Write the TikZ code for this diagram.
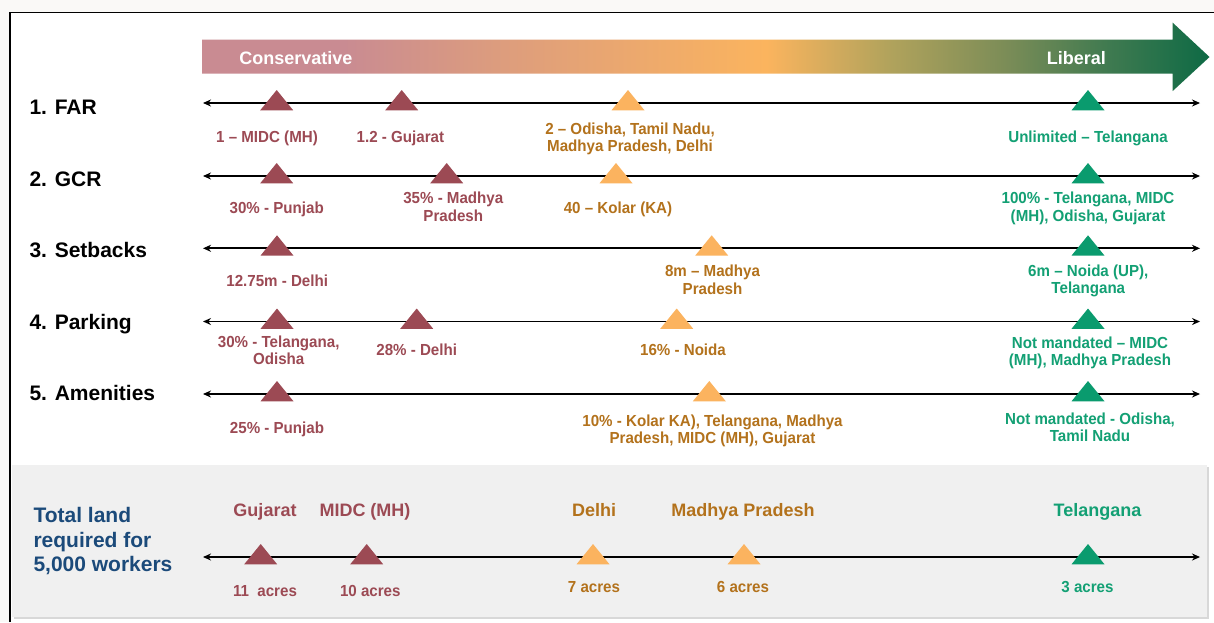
\documentclass[tikz,border=0pt]{standalone}
\usepackage{fontspec}
\setmainfont{Liberation Sans}
\newfontfamily\narrowfont[FakeStretch=0.945]{Liberation Sans}
\usetikzlibrary{arrows.meta,shadows}
\definecolor{pagebg}{HTML}{FAF9F7}
\definecolor{cRose}{HTML}{C98B92}
\definecolor{cPeach}{HTML}{DD9D7D}
\definecolor{cOrange}{HTML}{FBB45E}
\definecolor{cOlive}{HTML}{B2A35C}
\definecolor{cMoss}{HTML}{7A8C57}
\definecolor{cGreenM}{HTML}{3F7A50}
\definecolor{cDkGreen}{HTML}{0E6A45}
\definecolor{triRed}{HTML}{9C4A54}
\definecolor{triOrange}{HTML}{FBB35F}
\definecolor{triGreen}{HTML}{0A9B6E}
\definecolor{txtRed}{HTML}{9C4A54}
\definecolor{txtOrange}{HTML}{B3721C}
\definecolor{txtGreen}{HTML}{13A074}
\definecolor{txtBlue}{HTML}{1B4A7A}
\definecolor{boxGray}{HTML}{F0F0F0}
\pgfdeclarehorizontalshading{consliberal}{100bp}{color(0bp)=(cRose); color(25bp)=(cRose); color(32bp)=(cRose); color(40bp)=(cPeach); color(53bp)=(cOrange); color(59bp)=(cOlive); color(65bp)=(cMoss); color(70bp)=(cGreenM); color(75bp)=(cDkGreen); color(100bp)=(cDkGreen)}
\begin{document}
\begin{tikzpicture}[x=1pt,y=-1pt,
  axisline/.style={line width=1.7pt, {Stealth[length=8pt,width=7pt]}-{Stealth[length=8pt,width=7pt]}},
  tri/.pic={\fill (-16.5,7.3) -- (16.5,7.3) -- (0,-13) -- cycle;},
  lbl/.style={inner sep=0pt, anchor=north, align=center, yshift=12.11pt,
    font=\narrowfont\bfseries\fontsize{16}{17.3}\selectfont, execute at begin node=\strut},
  rowtitle/.style={anchor=base west, inner sep=0pt, font=\bfseries\fontsize{21}{25}\selectfont},
  toplbl/.style={anchor=base, inner sep=0pt, font=\bfseries\fontsize{18}{21}\selectfont},
  acre/.style={anchor=base, inner sep=0pt, font=\narrowfont\bfseries\fontsize{16}{18}\selectfont},
  barlbl/.style={anchor=base, inner sep=0pt, text=white, font=\bfseries\fontsize{18}{21}\selectfont}
]
\useasboundingbox (0,0) rectangle (1214,622);
\fill[pagebg] (0,0) rectangle (1214,622);
\fill[white] (10,12.5) rectangle (1214,622);
\draw[line width=1.2pt] (10,622) -- (10,12.5) -- (1214,12.5);

% gradient arrow
\shade[shading=consliberal] (202,39.5) -- (1172.7,39.5) -- (1172.7,22.7) -- (1209.5,57)
  -- (1172.7,91) -- (1172.7,73.5) -- (202,73.5) -- cycle;
\node[barlbl] (cons) at (295.8,64.3) {Conservative};
\node[barlbl] (lib) at (1076.3,64.3) {Liberal};

% bottom box
\fill[boxGray, drop shadow={shadow xshift=1.5pt, shadow yshift=-2pt, opacity=0.3}] (12,465) rectangle (1207,617);

% row titles
\node[rowtitle] (t1) at (29.3,114.3) {1. FAR};
\node[rowtitle] (t2) at (29.3,186) {2. GCR};
\node[rowtitle] (t3) at (29.3,257.5) {3. Setbacks};
\node[rowtitle] (t4) at (29.3,329.5) {4. Parking};
\node[rowtitle] (t5) at (29.3,400.5) {5. Amenities};
\node[anchor=north west, inner sep=0pt, align=left, text=txtBlue,
  font=\bfseries\fontsize{21}{24.5}\selectfont, execute at begin node=\strut, yshift=17.15pt]
  (tot) at (33.3,524.3) {Total land\\required for\\5,000 workers};

% axis lines
\foreach \n/\y in {1/103,2/176,3/248.3,4/321.5,5/394,6/557}{
  \coordinate (l\n) at (203,\y);
  \coordinate (r\n) at (1200,\y);
  \draw[axisline] (l\n) -- (r\n);
}

% 1. FAR
\pic[triRed] at (276.7,103) {tri};
\pic[triRed] at (401.7,103) {tri};
\pic[triOrange] at (628,103) {tri};
\pic[triGreen] at (1088,103) {tri};
\node[lbl, text=txtRed] (f1) at (267,142.3) {1 – MIDC (MH)};
\node[lbl, text=txtRed] (f2) at (400.4,142.3) {1.2 - Gujarat};
\node[lbl, text=txtOrange] (f3) at (630,135) {2 – Odisha, Tamil Nadu,\\Madhya Pradesh, Delhi};
\node[lbl, text=txtGreen] (f4) at (1088,142) {Unlimited – Telangana};

% 2. GCR
\pic[triRed] at (276.7,176) {tri};
\pic[triRed] at (446.7,176) {tri};
\pic[triOrange] at (616,176) {tri};
\pic[triGreen] at (1088,176) {tri};
\node[lbl, text=txtRed] (g1) at (276.7,213.3) {30\% - Punjab};
\node[lbl, text=txtRed] (g2) at (453.3,204.3) {35\% - Madhya\\Pradesh};
\node[lbl, text=txtOrange] (g3) at (618,213.3) {40 – Kolar (KA)};
\node[lbl, text=txtGreen] (g4) at (1088,204.3) {100\% - Telangana, MIDC\\(MH), Odisha, Gujarat};

% 3. Setbacks
\pic[triRed] at (277,248.3) {tri};
\pic[triOrange] at (711.7,248.3) {tri};
\pic[triGreen] at (1088,248.3) {tri};
\node[lbl, text=txtRed] (s1) at (277.2,286) {12.75m - Delhi};
\node[lbl, text=txtOrange] (s2) at (712.5,277.3) {8m – Madhya\\Pradesh};
\node[lbl, text=txtGreen] (s3) at (1088.3,276.7) {6m – Noida (UP),\\Telangana};

% 4. Parking
\pic[triRed] at (277,321.5) {tri};
\pic[triRed] at (416.7,321.5) {tri};
\pic[triOrange] at (676.7,321.5) {tri};
\pic[triGreen] at (1088,321.5) {tri};
\node[lbl, text=txtRed] (p1) at (278.7,347.7) {30\% - Telangana,\\Odisha};
\node[lbl, text=txtRed] (p2) at (416.7,355.7) {28\% - Delhi};
\node[lbl, text=txtOrange] (p3) at (683,355) {16\% - Noida};
\node[lbl, text=txtGreen] (p4) at (1090,349) {Not mandated – MIDC\\(MH), Madhya Pradesh};

% 5. Amenities
\pic[triRed] at (277,394) {tri};
\pic[triOrange] at (709.3,394) {tri};
\pic[triGreen] at (1088,394) {tri};
\node[lbl, text=txtRed] (a1) at (277,433) {25\% - Punjab};
\node[lbl, text=txtOrange] (a2) at (712.5,426.7) {10\% - Kolar KA), Telangana, Madhya\\Pradesh, MIDC (MH), Gujarat};
\node[lbl, text=txtGreen] (a3) at (1090,425) {Not mandated - Odisha,\\Tamil Nadu};

% Total land
\pic[triRed] at (260.7,557) {tri};
\pic[triRed] at (366.7,557) {tri};
\pic[triOrange] at (593,557) {tri};
\pic[triOrange] at (744,557) {tri};
\pic[triGreen] at (1088,557) {tri};
\node[toplbl, text=txtRed] (b1) at (265,516.7) {Gujarat};
\node[toplbl, text=txtRed] (b2) at (365,516.7) {MIDC (MH)};
\node[toplbl, text=txtOrange] (b3) at (594,516.7) {Delhi};
\node[toplbl, text=txtOrange] (b4) at (743,516.7) {Madhya Pradesh};
\node[toplbl, text=txtGreen] (b5) at (1097.5,516.7) {Telangana};
\node[acre, text=txtRed] (c1) at (265,596) {11~ acres};
\node[acre, text=txtRed] (c2) at (370.3,596) {10 acres};
\node[acre, text=txtOrange] (c3) at (594,592) {7 acres};
\node[acre, text=txtOrange] (c4) at (743,592) {6 acres};
\node[acre, text=txtGreen] (c5) at (1087.5,592) {3 acres};
\end{tikzpicture}
\end{document}
